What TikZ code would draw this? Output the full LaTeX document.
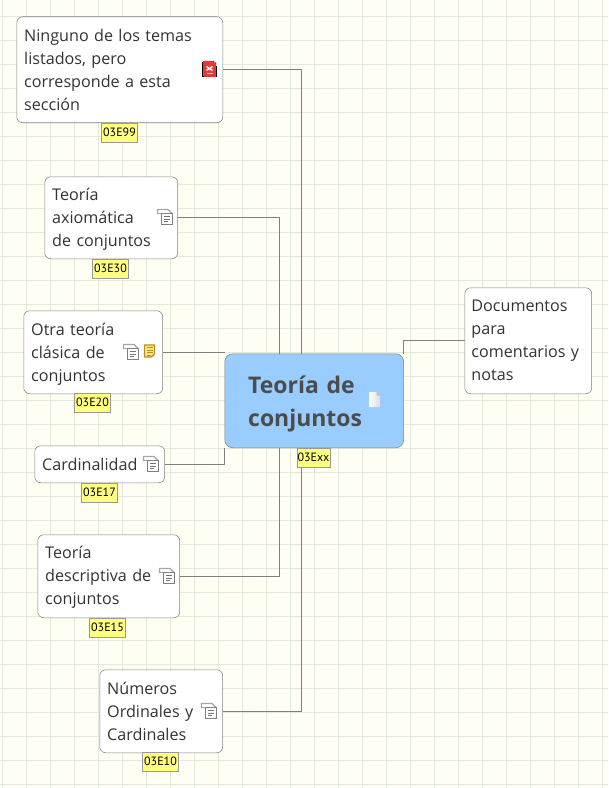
\documentclass[tikz,border=0pt]{standalone}
\usepackage{fontspec}
\setmainfont{Open Sans}
\newfontfamily\tagfont{PT Sans}
\usetikzlibrary{positioning}
\definecolor{paper}{HTML}{FEFFF2}
\definecolor{gridline}{HTML}{E2EADB}
\definecolor{linkgray}{HTML}{808080}
\definecolor{bluetopic}{HTML}{99CCFF}
\definecolor{tagyellow}{HTML}{FFFF80}
\definecolor{memoedge}{HTML}{B8901E}
\definecolor{memofill}{HTML}{FFE58A}
\definecolor{pdfred}{HTML}{E23A35}
\newcommand{\drop}[1]{\rule{0pt}{#1}}
\tikzset{
  topic/.style={draw=linkgray, fill=white, rounded corners=4.5pt, anchor=north west, align=left,
    inner xsep=5.6pt, inner ysep=0pt, font=\fontsize{12.1}{17.25}\selectfont, text=black!80},
  tagbox/.style={draw=black!40, fill=tagyellow, inner sep=0pt, minimum height=14.25pt,
    font=\tagfont\fontsize{9}{10}\selectfont},
  link/.style={draw=linkgray, line width=.75pt},
  pics/sheets/.style={code={
    \draw[black!35, line width=.9pt] (-7.5,-3) -- (-7.5,-7.5) -- (3,-7.5) -- (7,-3.5);
    \draw[black!35, line width=.9pt] (-7.5,-3.5) -- (7,-3.5);
    \draw[black!50, line width=.75pt, fill=white] (-3.5,-3.5) rectangle (7.5,7.5);
    \draw[black!55, line width=.75pt] (-1,-.5) -- (5,-.5) (-1,2) -- (5,2) (-1,4.5) -- (3,4.5);
  }},
  pics/memo/.style={code={
    \draw[memoedge, line width=1pt, fill=memofill] (-5,-6) -- (5,-6) -- (5,3) -- (2,6) -- (-5,6) -- cycle;
    \draw[memoedge, line width=.75pt] (-3,-3.5) -- (3,-3.5) (-3,-1) -- (3,-1) (-3,1.5) -- (3,1.5) (-3,4) -- (1,4);
  }},
  pics/pdfmark/.style={code={
    \fill[pdfred] (-6.5,-8) -- (3.5,-8) -- (6.5,-5) -- (6.5,8) -- (-6.5,8) -- cycle;
    \draw[black, line width=.75pt] (-7.5,8) -- (-6,8) (6,8) -- (7.5,8) (-7,-7) -- (-7,8) (7,-3) -- (7,8);
    \draw[black!70, line width=.75pt, dash pattern=on 1pt off 1pt] (3.5,-8) -- (7,-5);
    \draw[white, line width=1.1pt] (-3,-2.5) -- (3,1.5) (-3,1.5) -- (3,-2.5);
    \draw[white!80!red, line width=.75pt] (-3,5) -- (3,5);
  }},
  pics/blank/.style={code={
    \shade[left color=white, right color=black!14] (-5.5,-7.5) -- (2,-7.5) -- (5.5,-4) -- (5.5,7.5) -- (-5.5,7.5) -- cycle;
    \fill[black!25] (2,-7.5) -- (5.5,-4) -- (2,-4) -- cycle;
  }},
}
\begin{document}
\begin{tikzpicture}[x=.75pt, y=-.75pt]
\useasboundingbox (0,0) rectangle (608,788);
\fill[paper] (0,0) rectangle (608,788);
% grid
\foreach \gx in {0,...,25} {
  \draw[gridline, line width=.75pt] (2.5+24*\gx,0) -- (2.5+24*\gx,788);
}
\foreach \gy in {-1,0,...,32} {
  \draw[gridline, line width=.75pt] (0,16.5+24*\gy) -- (608,16.5+24*\gy);
}
% topics
\node[topic, text width=143.3pt, minimum height=79.5pt] (none) at (16.5,16.5) {Ninguno de los temas\\listados, pero\\corresponde a esta\\secci\'on};
\node[topic, text width=88.5pt, minimum height=61.5pt] (axiom) at (44.5,176.5) {\drop{11pt}Teor\'ia\\axiom\'atica\\de conjuntos};
\node[topic, text width=93pt, minimum height=62.25pt] (classic) at (23.5,310.5) {\drop{12.5pt}Otra teor\'ia\\cl\'asica de\\conjuntos};
\node[topic, text width=86.25pt, minimum height=27.75pt] (cardinal) at (34.5,445.5) {Cardinalidad};
\node[topic, text width=95.25pt, minimum height=62.25pt] (descr) at (37.5,534.5) {\drop{11pt}Teor\'ia\\descriptiva de\\conjuntos};
\node[topic, text width=81pt, minimum height=62.25pt] (ordinal) at (99.5,669.5) {N\'umeros\\Ordinales y\\Cardinales};
\node[topic, text width=85.2pt, minimum height=79.5pt, inner xsep=5pt] (notes) at (464.5,287.5) {Documentos\\para\\comentarios y\\notas};
\node[topic, fill=bluetopic, text width=99pt, minimum height=70.5pt, inner xsep=17.6pt, text=black!70,
  font=\bfseries\fontsize{17.2}{24.75}\selectfont, rounded corners=6pt] (set) at (224.5,353.5) {\drop{18.3pt}Teor\'ia de\\conjuntos};
% links
\draw[link] (none.east) -| ([xshift=-9.375pt]set.north);
\draw[link] (axiom.east) -| ([xshift=-26.25pt]set.north);
\draw[link] (classic.east) -- (classic.east -| set.west);
\draw[link] (cardinal.east) -| (set.south west);
\draw[link] (descr.east) -| ([xshift=-26.25pt]set.south);
\draw[link] (ordinal.east) -| ([xshift=-9.375pt]set.south);
\draw[link] (set.north east) |- (notes.west);
% attribute tags
\node[tagbox, minimum width=27pt] (t99) at (119.5,132.5) {03E99};
\node[tagbox, minimum width=27pt] (t30) at (110.5,268.5) {03E30};
\node[tagbox, minimum width=27pt] (t20) at (92.5,402.5) {03E20};
\node[tagbox, minimum width=27pt] (t17) at (99.5,492.5) {03E17};
\node[tagbox, minimum width=27pt] (t15) at (107.5,627.5) {03E15};
\node[tagbox, minimum width=27pt] (t10) at (160.5,761.5) {03E10};
\node[tagbox, minimum width=25pt] (txx) at (313.5,457.5) {03Exx};
% icons
\pic at (209.5,69) {pdfmark};
\pic at (165,217) {sheets};
\pic at (131,352) {sheets};
\pic at (149.5,351) {memo};
\pic at (151,464) {sheets};
\pic at (167,576) {sheets};
\pic at (209,711) {sheets};
\pic at (374.5,399.5) {blank};
\end{tikzpicture}
\end{document}
